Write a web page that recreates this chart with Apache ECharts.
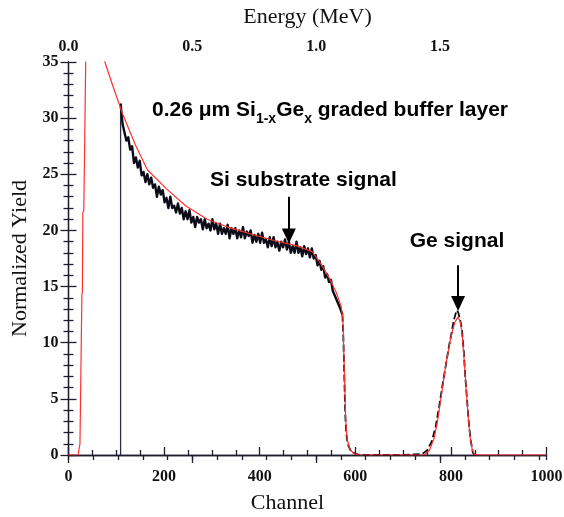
<!DOCTYPE html>
<html>
<head>
<meta charset="utf-8">
<script src="https://cdn.jsdelivr.net/npm/echarts@6/dist/echarts.min.js"></script>
<style>
  html, body { margin: 0; padding: 0; background: #ffffff; }
  #chart { width: 564px; height: 517px; }
</style>
</head>
<body>
<div id="chart"></div>
<script>
// RBS spectrum of a Si(1-x)Ge(x) graded buffer on Si: measured yield vs. simulation

// Measured yield, sampled every 4 channels starting at channel 109
const measuredStartChannel = 109;
const measuredStep = 4;
const measuredYield = [
  31.3, 29.5, 29.4, 28.0, 28.3, 27.2, 27.5, 26.0, 26.5, 25.6,
  26.2, 24.9, 25.2, 24.3, 25.0, 24.1, 24.7, 23.8, 24.1, 23.0,
  23.9, 23.2, 23.6, 22.5, 22.9, 22.0, 23.0, 22.0, 22.2, 21.6,
  22.4, 21.5, 22.0, 21.0, 21.7, 21.0, 21.8, 20.7, 21.2, 20.3,
  21.2, 20.7, 21.0, 20.1, 21.0, 20.2, 20.6, 20.0, 21.0, 20.1,
  20.6, 19.7, 20.6, 19.7, 20.2, 19.7, 20.5, 19.3, 20.2, 19.7,
  20.2, 19.3, 20.0, 19.4, 20.3, 19.3, 19.9, 19.5, 20.0, 18.9,
  19.6, 19.0, 19.7, 18.9, 19.8, 18.9, 19.2, 18.5, 19.4, 18.6,
  19.4, 18.5, 19.0, 18.2, 19.0, 18.5, 19.2, 18.3, 19.0, 18.0,
  18.6, 18.0, 19.0, 18.0, 18.5, 17.7, 18.6, 17.9, 18.4, 17.6,
  18.4, 17.5, 17.8, 16.9, 17.3, 16.5, 16.8, 15.8, 16.1, 15.4,
  15.6, 14.6, 14.6, 13.8, 13.7, 13.0, 12.5
];

// Measured yield past the Si edge and across the Ge peak [channel, yield]
const measuredTail = [
  [573, 12.5], [575, 10.5], [577, 7.0], [579, 3.6], [581, 2.0], [584, 1.0],
  [590, 0.4], [600, 0.1], [610, 0.0], [650, 0.0], [700, 0.0], [740, 0.1],
  [750, 0.4], [760, 1.2], [768, 2.5], [775, 4.2], [782, 6.1], [789, 7.9],
  [796, 9.7], [802, 11.0], [806, 12.0], [810, 12.6], [813, 12.9], [816, 12.6],
  [820, 11.9], [823, 11.2], [827, 9.2], [830, 7.0], [834, 4.8], [837, 3.1],
  [841, 1.4], [846, 0.2], [850, 0.0]
];

// Simulated spectrum [channel, yield]
const simulated = [
  [0, 0], [20, 0], [24, 1.0], [28, 14.3], [29, 14.5], [30, 21.6], [32, 21.8],
  [36, 35.0], [40, 44.0], [50, 42.0], [76, 35.0], [95, 32.6], [113, 30.4],
  [140, 27.6], [165, 25.4], [205, 23.7], [245, 22.2], [290, 21.0], [333, 20.3],
  [380, 19.7], [430, 19.1], [480, 18.6], [510, 18.1], [520, 17.5], [530, 16.9],
  [545, 15.8], [560, 14.5], [570, 13.3], [574, 12.2], [576, 9.0], [578, 6.0],
  [580, 3.0], [583, 1.4], [588, 0.6], [596, 0.15], [605, 0], [740, 0],
  [745, 0.05], [755, 0.4], [765, 1.5], [772, 3.0], [780, 5.3], [790, 8.2],
  [800, 10.5], [808, 11.8], [815, 12.3], [820, 11.8], [824, 10.5], [828, 8.3],
  [832, 5.8], [836, 3.5], [840, 1.6], [845, 0.4], [850, 0.05], [860, 0], [1000, 0]
];

// Axis ranges and tick steps
const channelRange = [0, 1000];
const channelStep = 200;
const yieldRange = [0, 35];
const yieldStep = 5;
const energyRange = [0, 1.93];
const energyStep = 0.5;
const energyMinorStep = 0.1;

// Arrow annotations [channel, yield from, yield to]
const arrowSi = [461, 23.0, 19.5];
const arrowGe = [815, 16.9, 13.5];

const measuredSeries = measuredYield.map((v, i) => [measuredStartChannel + i * measuredStep, v]);
// thin vertical rise where the measured spectrum starts
const measuredEdge = [[measuredStartChannel, 0], [measuredStartChannel, measuredYield[0]]];

const axisColor = '#1e1e30';
const serif = '"Liberation Serif", "DejaVu Serif", serif';
const sans = '"Liberation Sans", Arial, sans-serif';

const tickLabel = { color: '#111', fontFamily: serif, fontWeight: 'bold', fontSize: 16 };
const axisName = { color: '#111', fontFamily: serif, fontSize: 22 };

const chart = echarts.init(document.getElementById('chart'), null, { renderer: 'canvas' });

const gridRect = { left: 68.5, right: 17.5, top: 62, bottom: 62 };

chart.setOption({
  backgroundColor: '#ffffff',
  animation: false,
  grid: [
    Object.assign({ containLabel: false, outerBoundsMode: 'none' }, gridRect),
    Object.assign({ containLabel: false, outerBoundsMode: 'none' }, gridRect)
  ],
  xAxis: [
    {
      type: 'value', gridIndex: 0, position: 'bottom',
      min: channelRange[0], max: channelRange[1], interval: channelStep,
      name: 'Channel', nameLocation: 'middle', nameGap: 37,
      nameTextStyle: Object.assign({ padding: [0, 40, 0, 0] }, axisName),
      axisLine: { show: true, lineStyle: { color: axisColor, width: 1.3 } },
      axisTick: { inside: true, length: 8, lineStyle: { color: axisColor, width: 1.3 } },
      minorTick: { show: true, splitNumber: 4, length: 5, lineStyle: { color: axisColor, width: 1.3 } },
      axisLabel: Object.assign({ margin: 14, formatter: v => String(v) }, tickLabel),
      splitLine: { show: false }
    },
    {
      type: 'value', gridIndex: 0, position: 'top',
      min: energyRange[0], max: energyRange[1], interval: energyStep,
      name: 'Energy (MeV)', nameLocation: 'middle', nameGap: 34, nameTextStyle: axisName,
      axisLine: { show: true, lineStyle: { color: axisColor, width: 1.3 } },
      axisTick: { inside: true, length: 8, lineStyle: { color: axisColor, width: 1.3 } },
      axisLabel: Object.assign({
        margin: 7, showMaxLabel: false,
        formatter: v => (Math.abs(v - energyRange[1]) < 1e-6 ? '' : v.toFixed(1))
      }, tickLabel),
      splitLine: { show: false }
    },
    {
      type: 'value', gridIndex: 1, position: 'top',
      min: energyRange[0], max: energyRange[1], interval: energyMinorStep,
      axisLine: { show: false },
      axisTick: { inside: true, length: 5, lineStyle: { color: axisColor, width: 1.3 } },
      axisLabel: { show: false },
      splitLine: { show: false }
    }
  ],
  yAxis: [
    {
      type: 'value', gridIndex: 0, position: 'left',
      min: yieldRange[0], max: yieldRange[1], interval: yieldStep,
      name: 'Normalized Yield', nameLocation: 'middle', nameGap: 34, nameTextStyle: axisName,
      axisLine: { show: true, lineStyle: { color: axisColor, width: 1.3 } },
      axisTick: { inside: true, length: 8, lineStyle: { color: axisColor, width: 1.3 } },
      minorTick: { show: true, splitNumber: 5, length: 5, lineStyle: { color: axisColor, width: 1.3 } },
      axisLabel: Object.assign({ margin: 10 }, tickLabel),
      splitLine: { show: false }
    },
    {
      type: 'value', gridIndex: 0, position: 'right',
      min: yieldRange[0], max: yieldRange[1], interval: yieldStep,
      axisLine: { show: true, lineStyle: { color: axisColor, width: 1.3 } },
      axisTick: { inside: true, length: 8, lineStyle: { color: axisColor, width: 1.3 } },
      minorTick: { show: true, splitNumber: 5, length: 5, lineStyle: { color: axisColor, width: 1.3 } },
      axisLabel: { show: false },
      splitLine: { show: false }
    },
    {
      type: 'value', gridIndex: 1, show: false,
      min: yieldRange[0], max: yieldRange[1]
    }
  ],
  series: [
    {
      name: 'measured edge',
      type: 'line', xAxisIndex: 0, yAxisIndex: 0,
      data: measuredEdge,
      showSymbol: false, clip: true,
      lineStyle: { color: '#2a3040', width: 1.3 },
      z: 2
    },
    {
      name: 'measured',
      type: 'line', xAxisIndex: 0, yAxisIndex: 0,
      data: measuredSeries,
      showSymbol: false, smooth: false, clip: true,
      lineStyle: { color: '#0c0c18', width: 2.4, join: 'round' },
      z: 2
    },
    {
      name: 'measured tail',
      type: 'line', xAxisIndex: 0, yAxisIndex: 0,
      data: measuredTail,
      showSymbol: false, clip: true,
      lineStyle: { color: '#0c0c18', width: 1.8, type: [7, 3] },
      z: 2
    },
    {
      name: 'simulation',
      type: 'line', xAxisIndex: 0, yAxisIndex: 0,
      data: simulated,
      showSymbol: false, clip: true,
      lineStyle: { color: '#ff3030', width: 1.2 },
      z: 3,
      markLine: {
        silent: true,
        animation: false,
        symbol: ['none', 'triangle'],
        symbolSize: [14, 15],
        label: { show: false },
        lineStyle: { color: '#000', width: 2, type: 'solid' },
        data: [
          [{ coord: [arrowSi[0], arrowSi[1]] }, { coord: [arrowSi[0], arrowSi[2]] }],
          [{ coord: [arrowGe[0], arrowGe[1]] }, { coord: [arrowGe[0], arrowGe[2]] }]
        ]
      }
    }
  ],
  graphic: [
    {
      type: 'text', x: 152, y: 100,
      style: {
        text: '{m|0.26 \u03bcm Si}{s|1-x}{m|Ge}{s|x}{m| graded buffer layer}',
        fill: '#000',
        rich: {
          m: { fontFamily: sans, fontWeight: 'bold', fontSize: 21, lineHeight: 26, verticalAlign: 'bottom', padding: [0, 0, 5, 0] },
          s: { fontFamily: sans, fontWeight: 'bold', fontSize: 14, lineHeight: 14, verticalAlign: 'bottom' }
        }
      }
    },
    {
      type: 'text', x: 210, y: 180,
      style: {
        text: 'Si substrate signal', fill: '#000',
        font: 'bold 21px ' + sans, textVerticalAlign: 'middle'
      }
    },
    {
      type: 'text', x: 457, y: 241,
      style: {
        text: 'Ge signal', fill: '#000',
        font: 'bold 21px ' + sans, textAlign: 'center', textVerticalAlign: 'middle'
      }
    }
  ]
});
</script>
</body>
</html>
